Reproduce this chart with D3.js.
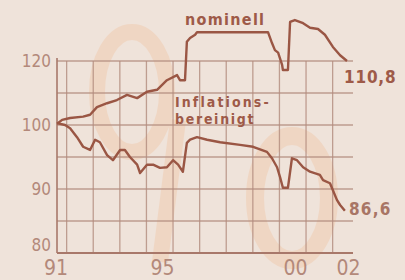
<!DOCTYPE html>
<html>
<head>
<meta charset="utf-8">
<script src="https://d3js.org/d3.v7.min.js"></script>
<style>
	body { margin: 0; background: #efe3da; }
	svg { display: block; }
</style>
</head>
<body>
<script>
var nomYears = [1991.04,1991.23,1991.53,1992.02,1992.28,1992.54,1992.92,1993.29,1993.67,1994.05,1994.42,1994.80,1995.17,1995.55,1995.66,1995.85,1995.92,1996.04,1996.23,1996.30,1998.97,1999.12,1999.23,1999.35,1999.50,1999.53,1999.72,1999.80,1999.98,2000.29,2000.55,2000.85,2001.11,2001.41,2001.68,2001.94];
var nomValues = [100.2,100.8,101.1,101.3,101.6,102.8,103.4,103.9,104.7,104.2,105.2,105.5,107.0,107.8,107.0,107.0,113.0,113.6,114.1,114.5,114.5,112.8,111.7,111.3,109.4,108.6,108.6,116.1,116.4,115.9,115.2,115.0,114.1,112.2,110.9,110.0];
var realYears = [1991.04,1991.34,1991.53,1991.79,1992.02,1992.28,1992.47,1992.65,1992.92,1993.14,1993.41,1993.59,1993.78,1994.05,1994.16,1994.42,1994.65,1994.91,1995.17,1995.40,1995.59,1995.77,1995.92,1996.04,1996.30,1996.68,1997.17,1997.92,1998.41,1998.93,1999.12,1999.31,1999.42,1999.53,1999.72,1999.87,2000.06,2000.29,2000.55,2000.92,2001.04,2001.30,2001.41,2001.56,2001.68,2001.86];
var realValues = [100.3,100.0,99.5,98.1,96.6,96.1,97.7,97.3,95.3,94.5,96.1,96.1,95.0,93.8,92.5,93.8,93.8,93.3,93.4,94.5,93.8,92.7,97.2,97.7,98.1,97.7,97.3,96.9,96.6,95.8,94.8,93.4,91.9,90.2,90.2,94.8,94.5,93.4,92.7,92.2,91.4,90.9,89.8,88.3,87.5,86.6];
var yTicks = [80, 90, 100, 110];
var yTickLabels = ["80", "90", "100", "120"];
var xTicks = [1991, 1995, 2000, 2002];
var xTickLabels = ["91", "95", "00", "02"];

var width = 405, height = 280;
var lineColor = "#9a5644";

var x = d3.scaleLinear().domain([1991, 2002]).range([56, 348.6]);
var y = d3.scaleLinear().domain([80, 110]).range([253, 61]);

var svg = d3.select("body").append("svg")
	.attr("width", width)
	.attr("height", height);

svg.append("rect")
	.attr("width", width)
	.attr("height", height)
	.attr("fill", "#efe3da");

// big % in the back
var wm = svg.append("g").attr("opacity", 0.35);
wm.append("ellipse")
	.attr("cx", 132).attr("cy", 92).attr("rx", 35).attr("ry", 60)
	.attr("fill", "none").attr("stroke", "#f0c09a").attr("stroke-width", 16);
wm.append("line")
	.attr("x1", 178).attr("y1", 120).attr("x2", 160).attr("y2", 262)
	.attr("stroke", "#f0c09a").attr("stroke-width", 16);
wm.append("ellipse")
	.attr("cx", 292).attr("cy", 198).attr("rx", 37).attr("ry", 62)
	.attr("fill", "none").attr("stroke", "#f0c09a").attr("stroke-width", 18);

var gridColor = "#b38c7e";
svg.append("g").selectAll("line")
	.data(d3.range(85, 111, 5))
	.enter().append("line")
	.attr("x1", 57).attr("x2", 353)
	.attr("y1", function(d){ return y(d); })
	.attr("y2", function(d){ return y(d); })
	.attr("stroke", gridColor)
	.attr("stroke-width", 1.3)
	.attr("opacity", 0.8);

svg.append("g").selectAll("line")
	.data(d3.range(1991.4, 2002, 1))
	.enter().append("line")
	.attr("x1", function(d){ return x(d); })
	.attr("x2", function(d){ return x(d); })
	.attr("y1", y(80)).attr("y2", y(110))
	.attr("stroke", gridColor)
	.attr("stroke-width", 1.3)
	.attr("opacity", 0.8);

svg.append("line")
	.attr("x1", 57).attr("x2", 57)
	.attr("y1", y(80)).attr("y2", y(110) - 3)
	.attr("stroke", "#a8786a").attr("stroke-width", 1.6);
svg.append("line")
	.attr("x1", 57).attr("x2", 353)
	.attr("y1", y(80)).attr("y2", y(80))
	.attr("stroke", "#a8786a").attr("stroke-width", 1.8);

var tickColor = "#b3897a";
svg.append("g").selectAll("text")
	.data(yTicks)
	.enter().append("text")
	.attr("x", 51)
	.attr("y", function(d){ return y(d) + (d === 80 ? -2 : 6); })
	.attr("text-anchor", "end")
	.attr("font-family", "DejaVu Sans Condensed")
	.attr("font-size", 17)
	.attr("fill", tickColor)
	.text(function(d, i){ return yTickLabels[i]; });

svg.append("g").selectAll("text")
	.data(xTicks)
	.enter().append("text")
	.attr("x", function(d){ return x(d); })
	.attr("y", 275)
	.attr("text-anchor", "middle")
	.attr("font-family", "DejaVu Sans Condensed")
	.attr("font-size", 21)
	.attr("fill", tickColor)
	.text(function(d, i){ return xTickLabels[i]; });

var line = d3.line()
	.x(function(d){ return x(d[0]); })
	.y(function(d){ return y(d[1]); });

svg.append("path")
	.datum(d3.zip(nomYears, nomValues))
	.attr("d", line)
	.attr("fill", "none")
	.attr("stroke", lineColor)
	.attr("stroke-width", 2.4)
	.attr("stroke-linejoin", "round");

svg.append("path")
	.datum(d3.zip(realYears, realValues))
	.attr("d", line)
	.attr("fill", "none")
	.attr("stroke", lineColor)
	.attr("stroke-width", 2.4)
	.attr("stroke-linejoin", "round");

var labelColor = "#9e5a48";
function label(txt, px, py, size, spacing, color){
	svg.append("text")
		.attr("x", px).attr("y", py)
		.attr("font-family", "DejaVu Sans Condensed")
		.attr("font-weight", "bold")
		.attr("font-size", size)
		.attr("letter-spacing", spacing)
		.attr("fill", color)
		.text(txt);
}
label("nominell", 185, 25, 16, 1.3, labelColor);
label("Inflations-", 175, 107, 14, 2.1, labelColor);
label("bereinigt", 175, 124, 14, 1.7, labelColor);
label("110,8", 344, 83, 17, 0.8, labelColor);
label("86,6", 349, 215, 17, 1.2, "#a87565");
</script>
</body>
</html>
